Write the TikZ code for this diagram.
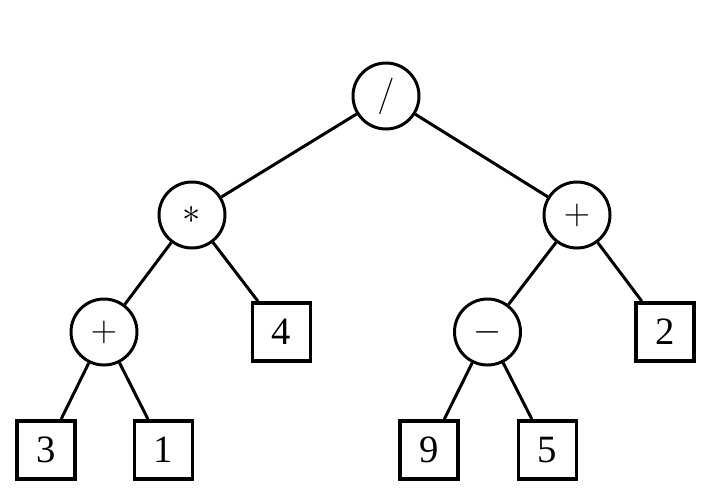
\documentclass[tikz,border=0pt]{standalone}
\usepackage{fontspec}
\setmainfont{Liberation Serif}
\usepackage{tikz}
\usetikzlibrary{positioning}

\begin{document}
\begin{tikzpicture}[font=\fontsize{22}{26}\selectfont]
\tikzset{op/.style={draw,circle,line width=1.7pt,minimum size=1.32cm,inner sep=0pt}}
\tikzset{leaf/.style={draw,rectangle,line width=2.2pt,minimum size=1.16cm,inner sep=0pt}}
\tikzset{edge/.style={line width=1.7pt}}
\useasboundingbox (0,0) rectangle (14.26,-9.98);
\def\yA{-1.92} \def\yB{-4.30} \def\yC{-6.64} \def\yD{-9.00}
% operators
\node[op] (root) at (7.72,\yA) {$/$};
\node[op] (mul) at (3.84,\yB) {$\ast$};
\node[op] (addR) at (11.54,\yB) {$+$};
\node[op] (addL) at (2.08,\yC) {$+$};
\node[op] (sub) at (9.75,\yC) {$-$};
% operands
\node[leaf] (n4) at (5.63,\yC) {4};
\node[leaf] (n2) at (13.30,\yC) {2};
\node[leaf] (n3) at (0.92,\yD) {3};
\node[leaf] (n1) at (3.27,\yD) {1};
\node[leaf] (n9) at (8.58,\yD) {9};
\node[leaf] (n5) at (10.95,\yD) {5};
% edges
\foreach \a/\b in {root/mul, root/addR, mul/addL, mul/n4, addR/sub, addR/n2, addL/n3, addL/n1, sub/n9, sub/n5}
  \draw[edge] (\a) -- (\b);
\end{tikzpicture}
\end{document}
